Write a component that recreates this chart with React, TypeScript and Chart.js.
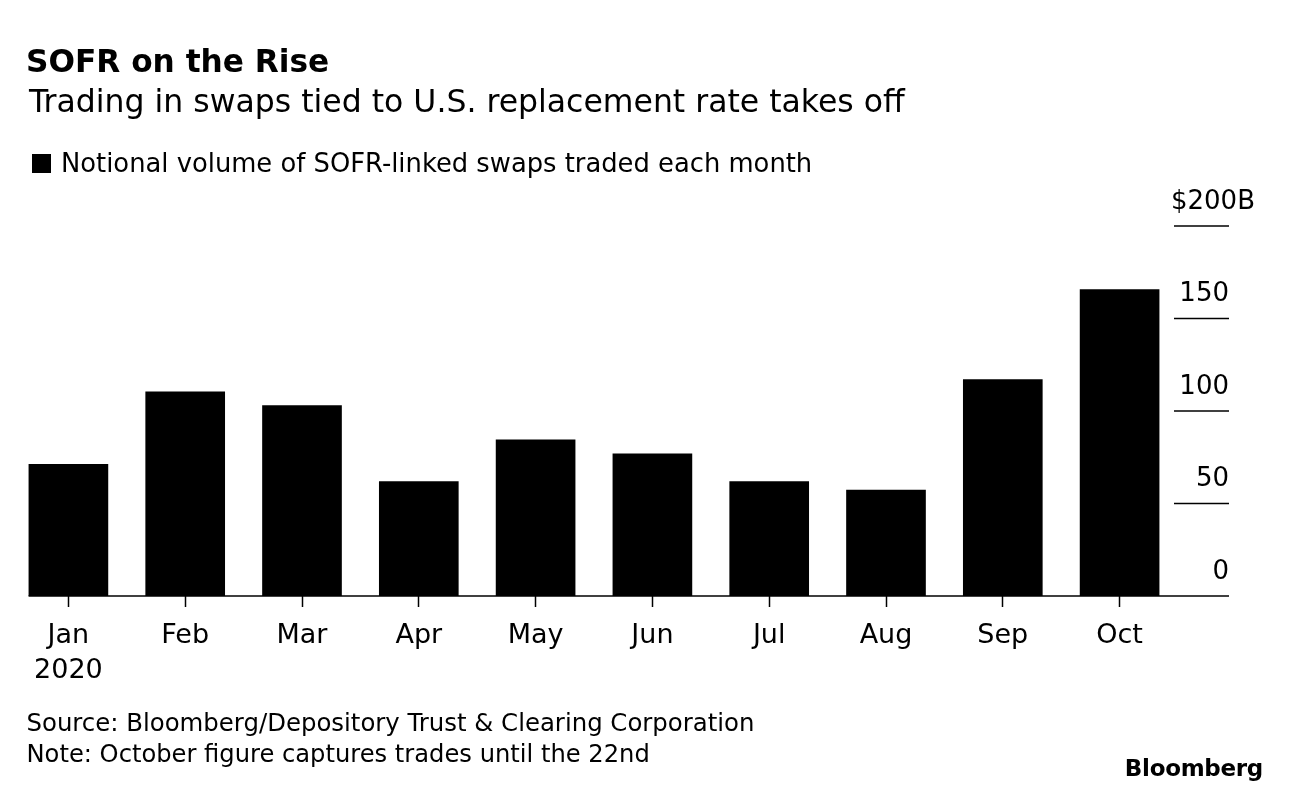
import React, { useEffect, useRef } from "react";
import { Chart, registerables } from "chart.js";

Chart.register(...registerables);

const FONT = '"DejaVu Sans", "Liberation Sans", sans-serif';

const title = "SOFR on the Rise";
const subtitle = "Trading in swaps tied to U.S. replacement rate takes off";
const legendLabel = "Notional volume of SOFR-linked swaps traded each month";
const sourceLine = "Source: Bloomberg/Depository Trust & Clearing Corporation";
const noteLine = "Note: October figure captures trades until the 22nd";
const brand = "Bloomberg";

const categories: (string | string[])[] = [
  ["Jan", "2020"],
  "Feb",
  "Mar",
  "Apr",
  "May",
  "Jun",
  "Jul",
  "Aug",
  "Sep",
  "Oct",
];
const volumes = [71.4, 110.6, 103.1, 62.0, 84.6, 77.0, 62.0, 57.5, 117.2, 165.8];
const yTickValues = [0, 50, 100, 150, 200];
const yTickLabels = ["0", "50", "100", "150", "$200B"];

export default function App() {
  const ref = useRef<HTMLCanvasElement>(null);

  useEffect(() => {
    if (!ref.current) return;

    const axisPlugin = {
      id: "bbgAxis",
      afterDatasetsDraw(chart: any) {
        const ctx = chart.ctx as CanvasRenderingContext2D;
        const ys = chart.scales.y;
        const area = chart.chartArea;
        const meta = chart.getDatasetMeta(0);
        const first = meta.data[0] as any;
        const startX = first.x - first.width / 2;
        const endX = ys.right;
        ctx.save();
        ctx.strokeStyle = "#000";
        ctx.lineWidth = 1.5;
        const y0 = ys.getPixelForValue(0);
        ctx.beginPath();
        ctx.moveTo(startX, y0);
        ctx.lineTo(endX, y0);
        ctx.stroke();
        ctx.font = `26px ${FONT}`;
        ctx.fillStyle = "#000";
        ctx.textAlign = "right";
        ctx.textBaseline = "alphabetic";
        yTickValues.forEach((v, i) => {
          const py = ys.getPixelForValue(v);
          if (v !== 0) {
            ctx.beginPath();
            ctx.moveTo(area.right - 4, py);
            ctx.lineTo(endX, py);
            ctx.stroke();
          }
          const isTop = i === yTickValues.length - 1;
          ctx.fillText(yTickLabels[i], isTop ? endX + 26 : endX, py - 17.5);
        });
        ctx.restore();
      },
    };

    const chart = new Chart(ref.current, {
      type: "bar",
      data: {
        labels: categories,
        datasets: [
          {
            label: legendLabel,
            data: volumes,
            backgroundColor: "#000",
            borderWidth: 0,
            barPercentage: 0.682,
            categoryPercentage: 1,
          },
        ],
      },
      options: {
        responsive: false,
        animation: false,
        devicePixelRatio: 1,
        layout: { padding: { left: 10, right: 63, top: 226, bottom: 98 } },
        plugins: {
          legend: { display: false },
          title: { display: false },
          tooltip: { enabled: false },
        },
        scales: {
          x: {
            offset: true,
            grid: {
              display: true,
              offset: false,
              drawOnChartArea: false,
              drawTicks: true,
              tickLength: 11,
              tickColor: "#000",
              tickWidth: 1.5,
            },
            border: { display: false },
            ticks: {
              color: "#000",
              font: { family: FONT, size: 27, lineHeight: "35px" as any },
              padding: 11.5,
              maxRotation: 0,
              minRotation: 0,
              autoSkip: false,
            },
            afterFit: (scale: any) => {
              scale.height = 100;
            },
          },
          y: {
            position: "right",
            min: 0,
            max: 200,
            grid: { display: false },
            border: { display: false },
            ticks: { display: false, stepSize: 50 },
            afterFit: (scale: any) => {
              scale.width = 51;
            },
          },
        },
      },
      plugins: [axisPlugin],
    });

    return () => chart.destroy();
  }, []);

  const base: React.CSSProperties = {
    position: "absolute",
    whiteSpace: "nowrap",
    color: "#000",
    fontFamily: FONT,
  };

  return (
    <div
      style={{
        position: "absolute",
        left: 0,
        top: 0,
        width: 1292,
        height: 794,
        background: "#fff",
        overflow: "hidden",
      }}
    >
      <canvas
        ref={ref}
        width={1292}
        height={794}
        style={{ position: "absolute", left: 0, top: 0, width: 1292, height: 794 }}
      />
      <div style={{ ...base, left: 26, top: 46, fontSize: 31.2, lineHeight: "31px", fontWeight: 700 }}>
        {title}
      </div>
      <div style={{ ...base, left: 29, top: 86, fontSize: 31.5, lineHeight: "31px" }}>{subtitle}</div>
      <div
        style={{
          position: "absolute",
          left: 32,
          top: 154,
          width: 19,
          height: 19,
          background: "#000",
        }}
      />
      <div style={{ ...base, left: 61, top: 150, fontSize: 25.8, lineHeight: "26px" }}>{legendLabel}</div>
      <div style={{ ...base, left: 26.5, top: 711, fontSize: 24.4, lineHeight: "24px" }}>{sourceLine}</div>
      <div style={{ ...base, left: 26.5, top: 742, fontSize: 24.2, lineHeight: "24px" }}>{noteLine}</div>
      <div
        style={{
          ...base,
          right: 29,
          top: 757,
          fontSize: 23,
          lineHeight: "23px",
          fontWeight: 700,
          letterSpacing: "-0.3px",
          textAlign: "right",
        }}
      >
        {brand}
      </div>
    </div>
  );
}
